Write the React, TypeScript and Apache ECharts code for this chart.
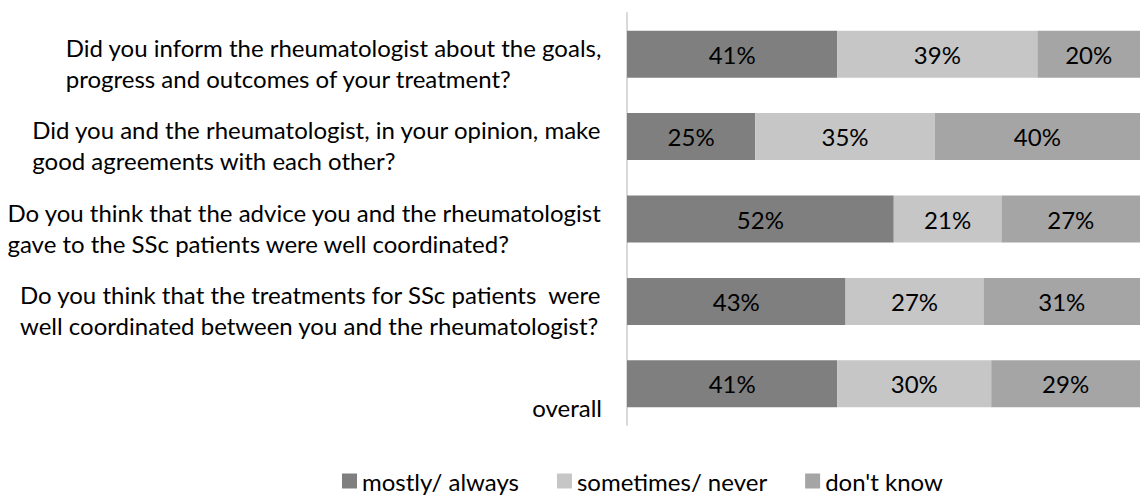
import React, { useEffect, useRef } from "react";
import * as echarts from "echarts";

const categories = [
  "Did you inform the rheumatologist about the goals,\nprogress and outcomes of your treatment?",
  "Did you and the rheumatologist, in your opinion, make\ngood agreements with each other?",
  "Do you think that the advice you and the rheumatologist\ngave to the SSc patients were well coordinated?",
  "Do you think that the treatments for SSc patients  were\nwell coordinated between you and the rheumatologist?",
  "overall",
];
const seriesNames = ["mostly/ always", "sometimes/ never", "don't know"];
const mostlyAlways = [41, 25, 52, 42.6, 41];
const sometimesNever = [39, 35, 21, 26.9, 30];
const dontKnow = [20, 40, 27, 30.5, 29];
const colors = ["#7f7f7f", "#c6c6c6", "#a5a5a5"];

const FONT = "Lato";

export default function App() {
  const ref = useRef<HTMLDivElement>(null);
  useEffect(() => {
    if (!ref.current) return;
    const chart = echarts.init(ref.current, undefined, { renderer: "svg" });
    const dataSets = [mostlyAlways, sometimesNever, dontKnow];
    chart.setOption({
      animation: false,
      textStyle: { fontFamily: FONT },
      grid: { left: 627, right: 0, top: 13, bottom: 70, containLabel: false },
      xAxis: {
        type: "value",
        min: 0,
        max: 100,
        show: false,
        splitLine: { show: false },
      },
      yAxis: {
        type: "category",
        inverse: true,
        data: categories,
        axisLine: { show: true, lineStyle: { color: "#d9d9d9", width: 2 } },
        axisTick: { show: false },
        axisLabel: {
          interval: 0,
          margin: 25,
          formatter: (v: string) => {
            const lines = v.split("\n");
            while (lines.length < 2) lines.unshift(" ");
            return "{pad| }\n" + lines.map((l) => "{t|" + l + "}").join("\n");
          },
          rich: {
            pad: { height: 17, lineHeight: 17, fontSize: 10 },
            t: { fontSize: 24, lineHeight: 31, color: "#000", fontFamily: FONT, align: "left" },
          },
        },
      },
      legend: {
        top: 469,
        left: 342,
        icon: "rect",
        itemWidth: 15,
        itemHeight: 15,
        itemGap: 38,
        padding: 0,
        textStyle: { fontSize: 24, lineHeight: 24, color: "#000", fontFamily: FONT },
        data: seriesNames,
      },
      series: seriesNames.map((name, i) => ({
        name,
        type: "bar",
        stack: "total",
        barWidth: 47,
        data: dataSets[i],
        itemStyle: { color: colors[i] },
        label: {
          show: true,
          position: "inside",
          color: "#000",
          fontSize: 24,
          fontFamily: FONT,
          formatter: (p: any) => Math.round(p.value) + "%",
        },
      })),
    });
    return () => chart.dispose();
  }, []);
  return (
    <div
      ref={ref}
      style={{ position: "absolute", left: 0, top: 0, width: 1140, height: 495 }}
    />
  );
}
